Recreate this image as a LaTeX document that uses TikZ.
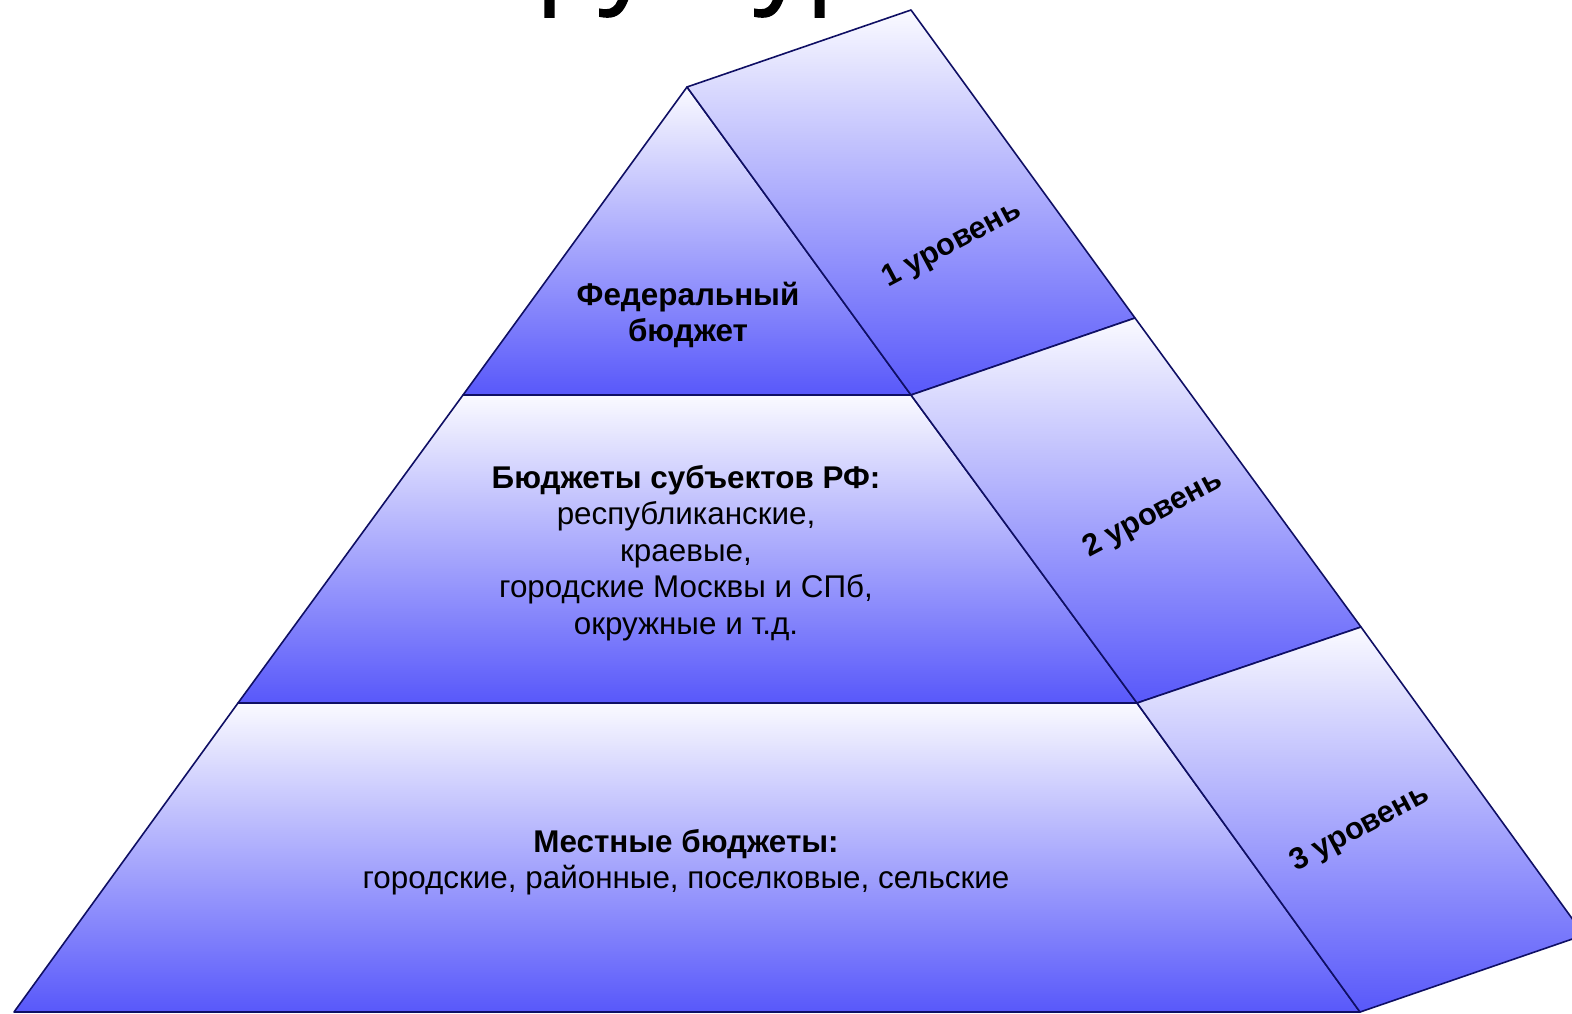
\documentclass[tikz,border=0pt]{standalone}
\usepackage{fontspec}
\setmainfont{Liberation Sans}
\newfontfamily\titlefont[FakeBold=1.6]{Open Sans}
\begin{document}
\begin{tikzpicture}[x=0.5pt,y=-0.5pt,
  panel/.style={top color=ctop, bottom color=cbot, draw=edge, line width=0.8pt, line join=round},
  maintext/.style={align=center, font=\fontsize{15.7}{18.2}\selectfont, inner sep=0pt},
  leveltext/.style={font=\fontsize{15.3}{16}\selectfont\bfseries, rotate=28, inner sep=0pt}]
\definecolor{ctop}{RGB}{250,250,255}
\definecolor{cbot}{RGB}{88,88,250}
\definecolor{edge}{RGB}{15,15,100}
\useasboundingbox (0,0) rectangle (1572,1013);
\clip (0,0) rectangle (1572,1013);
\fill[white] (0,0) rectangle (1572,1013);
% corners
\coordinate (A) at (687,87);
\coordinate (B) at (911,10);
\coordinate (L1l) at (463,395);
\coordinate (L1r) at (911,395);
\coordinate (L1b) at (1135,318);
\coordinate (L2l) at (238,703);
\coordinate (L2r) at (1137,703);
\coordinate (L2b) at (1361,627);
\coordinate (L3l) at (14,1012);
\coordinate (L3r) at (1360,1012);
\coordinate (L3b) at (1584,935);
% title (cut off at the top)
\node[anchor=base, inner sep=0pt, font=\titlefont\fontsize{52}{60}\selectfont] (title) at (675,-8) {Структура};
% panels
\path[panel] (A) -- (L1r) -- (L1l) -- cycle;
\path[panel] (A) -- (B) -- (L1b) -- (L1r) -- cycle;
\path[panel] (L1l) -- (L1r) -- (L2r) -- (L2l) -- cycle;
\path[panel] (L1r) -- (L1b) -- (L2b) -- (L2r) -- cycle;
\path[panel] (L2l) -- (L2r) -- (L3r) -- (L3l) -- cycle;
\path[panel] (L2r) -- (L2b) -- (L3b) -- (L3r) -- cycle;
% texts
\node[maintext] (fed) at (688,315) {\textbf{Федеральный}\\\textbf{бюджет}};
\node[maintext] (subj) at (686,553) {\textbf{Бюджеты субъектов РФ:}\\республиканские,\\краевые,\\городские Москвы и СПб,\\окружные и т.д.};
\node[maintext] (loc) at (686,862) {\textbf{Местные бюджеты:}\\городские, районные, поселковые, сельские};
\node[leveltext] (lv1) at (952,245) {1 уровень};
\node[leveltext] (lv2) at (1153,515) {2 уровень};
\node[leveltext] (lv3) at (1360,829) {3 уровень};
\end{tikzpicture}
\end{document}
